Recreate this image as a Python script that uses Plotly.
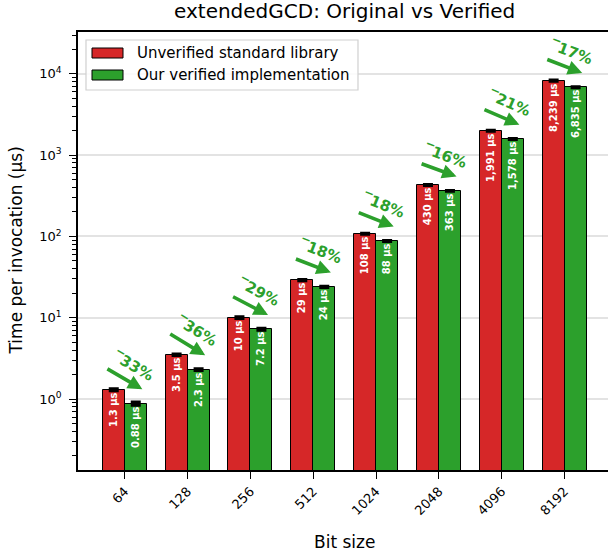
import math
import plotly.graph_objects as go

# Benchmark data: extendedGCD, time per invocation in microseconds
bit_sizes = ["64", "128", "256", "512", "1024", "2048", "4096", "8192"]
unverified_us = [1.3, 3.5, 10, 29, 108, 430, 1991, 8239]
verified_us = [0.88, 2.3, 7.2, 24, 88, 363, 1578, 6835]
unverified_err = [0.04, 0.08, 0.25, 0.5, 1.5, 6, 30, 120]
verified_err = [0.04, 0.05, 0.2, 0.4, 1.2, 5, 25, 100]
change_pct = [-33, -36, -29, -18, -18, -16, -21, -17]

series_names = ["Unverified standard library", "Our verified implementation"]
RED = "#d62728"
GREEN = "#2ca02c"
FONT = "DejaVu Sans"

# Figure geometry (pixels)
W, H = 608, 556
ML, MR, MT, MB = 78, 0, 32, 86
PW, PH = W - ML - MR, H - MT - MB
BAR_W = 0.35
XR = [-0.744, 7.69]
YR = [-0.873, 4.514]  # log10 range
px_per_x = PW / (XR[1] - XR[0])
px_per_dec = PH / (YR[1] - YR[0])


def px_to_paper(px, py):
    return (px - ML) / PW, (MT + PH - py) / PH


def fmt_us(v):
    if v >= 100:
        return f"{v:,.0f} µs"
    return f"{v:.2g} µs"


idx = list(range(len(bit_sizes)))

fig = go.Figure()
for vals, errs, color, name, off in [
    (unverified_us, unverified_err, RED, series_names[0], -BAR_W / 2),
    (verified_us, verified_err, GREEN, series_names[1], BAR_W / 2),
]:
    fig.add_trace(go.Bar(
        x=[i + off for i in idx], y=vals, width=BAR_W, name=name,
        marker=dict(color=color, line=dict(color="black", width=1)),
        error_y=dict(type="data", array=errs, color="black", thickness=3, width=5),
        text=[fmt_us(v) for v in vals], textposition="inside",
        insidetextanchor="end", textangle=-90,
        textfont=dict(family=FONT, size=10, color="white", weight="bold"),
        showlegend=False,
    ))

annotations = []
# Improvement arrows with percentage labels
for i, r, g, p in zip(idx, unverified_us, verified_us, change_pct):
    tx, ty = i - 0.30, math.log10(r * 1.85)
    hx, hy = i + 0.28, math.log10(g * 1.5)
    dxp = (hx - tx) * px_per_x
    dyp = (ty - hy) * px_per_dec
    ang = math.degrees(math.atan2(dyp, dxp))
    annotations.append(dict(
        x=hx, y=hy, ax=tx, ay=ty, xref="x", yref="y", axref="x", ayref="y",
        text="", showarrow=True, arrowhead=2, arrowsize=0.8, arrowwidth=3.6,
        arrowcolor=GREEN, standoff=0, startstandoff=0,
    ))
    mx, my = (tx + hx) / 2, (ty + hy) / 2
    off = 15
    annotations.append(dict(
        x=mx, y=my, xref="x", yref="y", showarrow=False,
        text=f"‾{abs(p)}%", textangle=ang,
        xshift=off * math.sin(math.radians(ang)) + 2,
        yshift=off * math.cos(math.radians(ang)),
        font=dict(family=FONT, size=15, color=GREEN, weight="bold"),
        xanchor="center", yanchor="middle",
    ))

# Title and axis labels
tx_, ty_ = px_to_paper(344.5, 11)
annotations.append(dict(x=tx_, y=ty_, xref="paper", yref="paper", showarrow=False,
                        text="extendedGCD: Original vs Verified",
                        font=dict(family=FONT, size=20, color="black"),
                        xanchor="center", yanchor="middle"))
lx, ly = px_to_paper(344.5, 542)
annotations.append(dict(x=lx, y=ly, xref="paper", yref="paper", showarrow=False,
                        text="Bit size", font=dict(family=FONT, size=17, color="black"),
                        xanchor="center", yanchor="middle"))
yx, yy = px_to_paper(15.5, 251)
annotations.append(dict(x=yx, y=yy, xref="paper", yref="paper", showarrow=False,
                        text="Time per invocation (µs)", textangle=-90,
                        font=dict(family=FONT, size=17, color="black"),
                        xanchor="center", yanchor="middle"))

# Legend box drawn as shapes
shapes = []
bx0, by0 = px_to_paper(86, 40)
bx1, by1 = px_to_paper(358, 90)
shapes.append(dict(type="rect", xref="paper", yref="paper", x0=bx0, y0=by1, x1=bx1, y1=by0,
                   line=dict(color="#d0d0d0", width=1.2), fillcolor="rgba(255,255,255,0.85)",
                   layer="above"))
for k, (name, color) in enumerate(zip(series_names, [RED, GREEN])):
    cy = 53 + k * 22
    sx0, sy0 = px_to_paper(92, cy - 5)
    sx1, sy1 = px_to_paper(123, cy + 5)
    shapes.append(dict(type="rect", xref="paper", yref="paper", x0=sx0, y0=sy1, x1=sx1, y1=sy0,
                       line=dict(color="black", width=1), fillcolor=color, layer="above"))
    ax_, ay_ = px_to_paper(135, cy)
    annotations.append(dict(x=ax_, y=ay_, xref="paper", yref="paper", showarrow=False,
                            text=name, font=dict(family=FONT, size=15, color="black"),
                            xanchor="left", yanchor="middle"))

decades = [0, 1, 2, 3, 4]
minor_vals = [m * 10 ** d for d in range(-1, 5) for m in range(2, 10)]

fig.update_layout(
    width=W, height=H, margin=dict(l=ML, r=MR, t=MT, b=MB, pad=0),
    plot_bgcolor="white", paper_bgcolor="white",
    barmode="overlay", bargap=0,
    font=dict(family=FONT, size=13, color="black"),
    annotations=annotations, shapes=shapes,
    xaxis=dict(
        range=XR, tickvals=idx, ticktext=bit_sizes, tickangle=-45,
        showgrid=False, zeroline=False, showline=True, linecolor="black",
        linewidth=1.6, mirror=True, ticks="outside", ticklen=7, tickwidth=1.3,
        tickcolor="black", tickfont=dict(family=FONT, size=13, color="black"),
    ),
    yaxis=dict(
        type="log", range=YR, tickvals=[10 ** d for d in decades],
        ticktext=[f"10<sup>{d}</sup>" for d in decades],
        showgrid=True, gridcolor="#e3e3e3", gridwidth=1.5, zeroline=False,
        showline=True, linecolor="black", linewidth=1.6, mirror=False,
        ticks="outside", ticklen=7, tickwidth=1.3, tickcolor="black",
        ticklabelstandoff=5,
        tickfont=dict(family=FONT, size=13, color="black"),
        minor=dict(tickvals=minor_vals, ticks="outside", ticklen=4, tickwidth=1,
                   tickcolor="black", showgrid=False),
    ),
)

fig.write_html("out.html")
